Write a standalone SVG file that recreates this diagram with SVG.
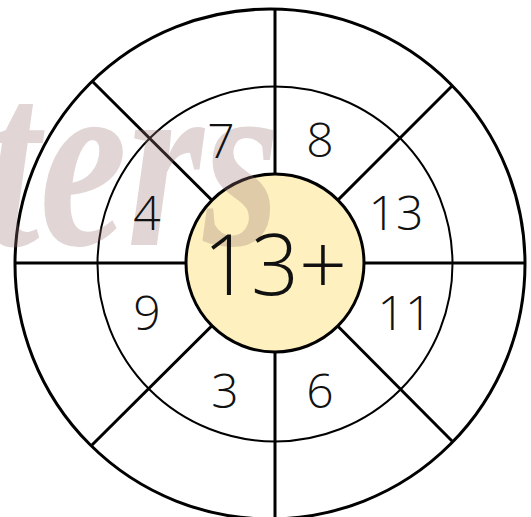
<svg xmlns="http://www.w3.org/2000/svg" width="531" height="517" viewBox="0 0 531 517">
<style>
.ring{fill:none;stroke:#000}
.ln{stroke:#000;stroke-width:3;stroke-linecap:butt}
.num{font-family:"Open Sans","Lato","DejaVu Sans",sans-serif;font-weight:300;font-size:48px;fill:#111;text-anchor:middle}
.big{font-size:84px}
.wm{font-family:"Liberation Serif",serif;font-style:italic;font-weight:bold;font-size:250px;fill:#9a7575;fill-opacity:0.3}
</style>
<rect width="531" height="517" fill="#fff"/>
<g id="outer-ring"><circle class="ring" cx="270" cy="264" r="255" stroke-width="3"/></g>
<g id="middle-ring"><circle class="ring" cx="275" cy="264" r="177.5" stroke-width="2"/></g>
<g id="connectors">
<line class="ln" x1="275" y1="9" x2="275" y2="517"/>
<line class="ln" x1="15" y1="263" x2="525" y2="263"/>
<line class="ln" x1="92" y1="81" x2="275" y2="263"/>
<line class="ln" x1="452" y1="86" x2="275" y2="263"/>
<line class="ln" x1="92" y1="445" x2="275" y2="263"/>
<line class="ln" x1="453" y1="442" x2="275" y2="263"/>
</g>
<g id="center"><circle cx="275" cy="263" r="89" fill="#fef1bf" stroke="#000" stroke-width="3"/></g>
<text class="wm" x="-15" y="245" textLength="295" lengthAdjust="spacingAndGlyphs">ters</text>
<g id="center-label"><text class="num big" x="275" y="295">13+</text></g>
<g id="n7"><text class="num" x="221" y="158">7</text></g>
<g id="n8"><text class="num" x="320" y="157">8</text></g>
<g id="n4"><text class="num" x="147" y="230">4</text></g>
<g id="n13"><text class="num" x="396" y="230">13</text></g>
<g id="n9"><text class="num" x="147" y="330">9</text></g>
<g id="n11"><text class="num" x="405" y="330">11</text></g>
<g id="n3"><text class="num" x="225" y="408">3</text></g>
<g id="n6"><text class="num" x="320" y="408">6</text></g>
</svg>
